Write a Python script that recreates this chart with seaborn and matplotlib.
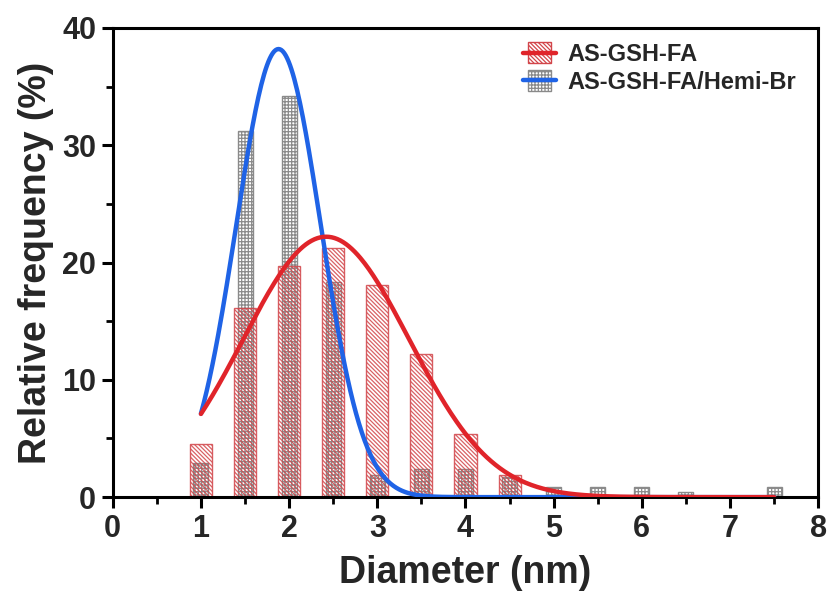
import numpy as np
import pandas as pd
import seaborn as sns
import matplotlib
matplotlib.use("Agg")
import matplotlib.pyplot as plt
from matplotlib.patches import Patch, Rectangle
from matplotlib.lines import Line2D
from matplotlib.legend_handler import HandlerTuple, HandlerPatch

# Size bins (nm) and relative frequencies (%)
diameter = [1.0, 1.5, 2.0, 2.5, 3.0, 3.5, 4.0, 4.5, 5.0, 5.5, 6.0, 6.5, 7.0, 7.5]
freq_fa = [4.5, 16.1, 19.7, 21.2, 18.1, 12.2, 5.4, 1.9, 0.0, 0.0, 0.0, 0.0, 0.0, 0.0]
freq_hemi = [2.9, 31.2, 34.2, 18.3, 1.9, 2.4, 2.4, 1.7, 0.85, 0.85, 0.85, 0.4, 0.0, 0.85]

# Gaussian fit parameters: amplitude, mean, SD
fit_fa = (22.2, 2.42, 0.94)
fit_hemi = (38.2, 1.88, 0.48)

labels = ["AS-GSH-FA", "AS-GSH-FA/Hemi-Br"]

RED = "#e0242a"
RED_BAR = "#d2454a"
BLUE = "#1f63e6"
GRAY = "#8a8a8a"
HATCH_FA = "\\" * 8
HATCH_HEMI = "+" * 5

sns.set_theme(style="ticks")
plt.rcParams["font.family"] = ["Liberation Sans", "DejaVu Sans"]
plt.rcParams["font.weight"] = "bold"
plt.rcParams["hatch.linewidth"] = 0.9

fig = plt.figure(figsize=(8.29, 6.07), dpi=100)
ax = fig.add_axes([0.136, 0.181, 0.851, 0.773])

df_hemi = pd.DataFrame({"d": diameter, "f": freq_hemi})
df_fa = pd.DataFrame({"d": diameter, "f": freq_fa})

# Hemi-Br histogram (narrow, grid hatch)
sns.barplot(data=df_hemi, x="d", y="f", native_scale=True, width=0.34,
            color="white", ax=ax)
n_hemi = len(ax.patches)
for p in ax.patches[:n_hemi]:
    p.set_facecolor("none")
    p.set_edgecolor(GRAY)
    p.set_hatch(HATCH_HEMI)
    p.set_linewidth(1.0)

# AS-GSH-FA histogram (wide, diagonal hatch)
sns.barplot(data=df_fa, x="d", y="f", native_scale=True, width=0.5,
            color="white", ax=ax)
for p in ax.patches[n_hemi:]:
    p.set_facecolor("none")
    p.set_edgecolor(RED_BAR)
    p.set_hatch(HATCH_FA)
    p.set_linewidth(1.0)
    p.set_alpha(0.85)

# Gaussian fit curves
xs = np.linspace(diameter[0], diameter[-1], 400)
def gauss(x, a, mu, sd):
    return a * np.exp(-(x - mu) ** 2 / (2 * sd ** 2))

sns.lineplot(x=xs, y=gauss(xs, *fit_hemi), color=BLUE, linewidth=3.2, ax=ax,
             zorder=4)
sns.lineplot(x=xs, y=gauss(xs, *fit_fa), color=RED, linewidth=3.2, ax=ax,
             zorder=5)

ax.set_xlim(0, 8)
ax.set_ylim(0, 40)
ax.set_xticks(range(0, 9))
ax.set_xticks(np.arange(0.5, 8, 1.0), minor=True)
ax.set_yticks([0, 10, 20, 30, 40])
ax.set_yticks([5, 15, 25, 35], minor=True)

for s in ax.spines.values():
    s.set_linewidth(2.2)
    s.set_color("black")
ax.tick_params(which="major", direction="out", length=8, width=2.2,
               labelsize=22, pad=4, color="black")
ax.tick_params(which="minor", direction="out", length=5, width=2.0,
               color="black")
for t in ax.get_xticklabels() + ax.get_yticklabels():
    t.set_fontweight("bold")

ax.set_xlabel("Diameter (nm)", fontsize=27, fontweight="bold", labelpad=8)
ax.set_ylabel("Relative frequency (%)", fontsize=27, fontweight="bold",
              labelpad=6)


# Legend: hatched box narrower than the fit line drawn across it
def narrow_box(legend, orig_handle, xdescent, ydescent, width, height, fontsize):
    w = width * 0.7
    h = height * 1.25
    return Rectangle((-xdescent + (width - w) / 2, -ydescent - (h - height) / 2),
                     w, h)


h_fa = (Patch(facecolor="none", edgecolor=RED_BAR, hatch=HATCH_FA, lw=1.0),
        Line2D([], [], color=RED, lw=3.2))
h_hemi = (Patch(facecolor="none", edgecolor=GRAY, hatch=HATCH_HEMI, lw=1.0),
          Line2D([], [], color=BLUE, lw=3.2))
leg = ax.legend([h_fa, h_hemi], labels,
                handler_map={tuple: HandlerTuple(ndivide=1),
                             Patch: HandlerPatch(patch_func=narrow_box)},
                loc="upper left", bbox_to_anchor=(0.582, 0.968),
                borderaxespad=0, borderpad=0,
                frameon=False, fontsize=17, handlelength=1.4,
                handletextpad=0.45, labelspacing=0.2)
for t in leg.get_texts():
    t.set_fontweight("bold")

fig.savefig("out.png", dpi=100)
